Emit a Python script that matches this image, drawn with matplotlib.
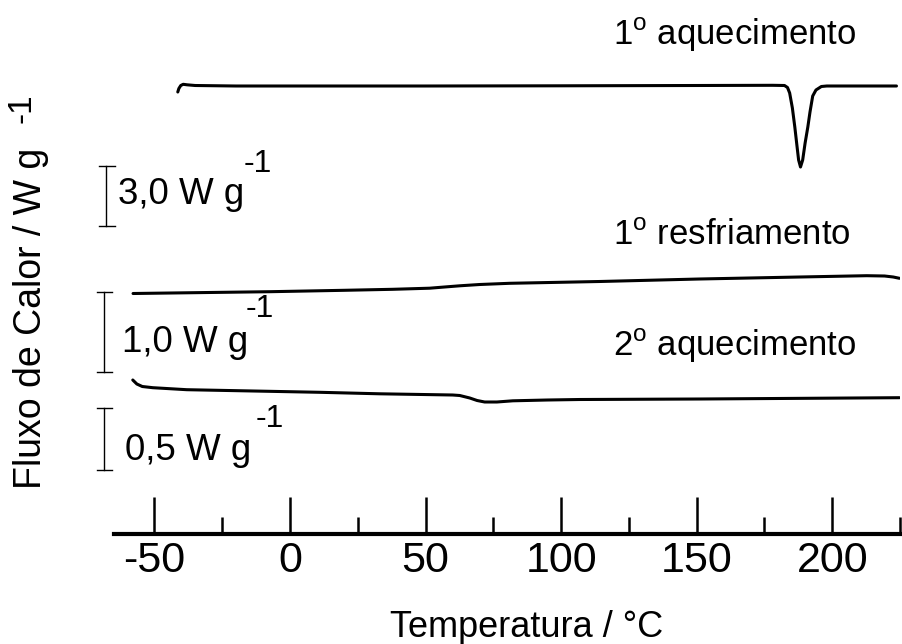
import matplotlib
matplotlib.use("Agg")
import matplotlib.pyplot as plt
from matplotlib.ticker import MultipleLocator

plt.rcParams['font.family'] = ['Liberation Sans', 'DejaVu Sans']
plt.rcParams['mathtext.fontset'] = 'custom'
plt.rcParams['mathtext.rm'] = 'Liberation Sans'
plt.rcParams['axes.unicode_minus'] = False

# ---- data (temperature in °C, heat flow in offset display units) ----
heat1_T = [-41.4, -41.0, -40.3, -39.4, -38.0, -35.0, -20.0, 0.0, 50.0, 100.0, 150.0, 178.0,
           182.4, 183.5, 184.3, 185.3, 186.2, 187.0, 187.6, 188.3, 189.1, 190.0, 191.0,
           191.8, 192.8, 194.0, 196.0, 198.0, 223.7]
heat1_py = [92, 88.5, 85.5, 84.3, 84.8, 85.5, 86, 86, 86, 85.8, 85.5, 85.3,
            85.5, 87.5, 93, 108, 127, 146, 160, 167, 160, 143, 127,
            112, 96, 90, 86.5, 86, 86]

cool1_T = [-57.9, -30.0, -7.4, 20.0, 37.9, 51.5, 57.0, 62.6, 70.0, 81.0, 114.2, 151.0,
           188.0, 212.7, 219.3, 222.5, 224.8]
cool1_py = [293.5, 292.5, 291.7, 290.3, 289.3, 288.2, 287.0, 285.8, 284.5, 283.3, 281.5, 279.0,
            277.0, 275.7, 276.0, 277.0, 278.3]

heat2_T = [-58.0, -56.5, -54.5, -50.6, -38.1, 11.0, 33.1, 60.0, 62.6, 66.3, 69.0, 71.8,
           76.3, 82.2, 95.0, 106.9, 151.1, 224.8]
heat2_py = [380, 384, 386.5, 387.7, 389.7, 392.3, 393.8, 395.0, 395.5, 398.0, 400.5, 402.0,
            402.0, 400.8, 400.0, 399.5, 399.0, 397.7]

curve_labels = [r"1$^{\mathregular{o}}$ aquecimento",
                r"1$^{\mathregular{o}}$ resfriamento",
                r"2$^{\mathregular{o}}$ aquecimento"]
scale_labels = ["3,0 W g", "1,0 W g", "0,5 W g"]
xticks_major = [-50, 0, 50, 100, 150, 200]

H = 534.0  # axis baseline in display-unit space


def y(v):
    return H - v


fig = plt.figure(figsize=(9.02, 6.44), dpi=100)
ax = fig.add_axes([113.8 / 902, (644 - 534) / 644, (900 - 113.8) / 902, 534 / 644])
ax.set_xlim(-65, 225)
ax.set_ylim(0, H)

lw = 2.2
for T, py in [(heat1_T, heat1_py), (cool1_T, cool1_py), (heat2_T, heat2_py)]:
    ax.plot(T, [y(v) for v in py], color='black', lw=lw, solid_capstyle='round',
            solid_joinstyle='round')

for s in ['left', 'top', 'right']:
    ax.spines[s].set_visible(False)
ax.spines['bottom'].set_linewidth(3)
ax.set_yticks([])
ax.set_xticks(xticks_major)
ax.xaxis.set_minor_locator(MultipleLocator(25))
ax.tick_params(axis='x', which='major', direction='in', length=26.5, width=1.8,
               labelsize=31, pad=5)
ax.tick_params(axis='x', which='minor', direction='in', length=12, width=1.8)

# curve labels
fs = 25
ax.text(119.0, y(45), curve_labels[0], fontsize=fs, ha='left', va='baseline')
ax.text(119.0, y(245), curve_labels[1], fontsize=fs, ha='left', va='baseline')
ax.text(119.0, y(356), curve_labels[2], fontsize=fs, ha='left', va='baseline')

# scale bars
bars = [(-67.7, -70.5, -64.6, 166, 226), (-68.7, -71.2, -65.7, 291.7, 371.7),
        (-68.7, -71.2, -65.7, 408, 470)]
for xb, x0, x1, top, bot in bars:
    ax.plot([xb, xb], [y(top), y(bot)], color='black', lw=1.0, clip_on=False)
    ax.plot([x0, x1], [y(top), y(top)], color='black', lw=1.0, clip_on=False)
    ax.plot([x0, x1], [y(bot), y(bot)], color='black', lw=1.0, clip_on=False)

lab_pos = [(-63.5, 204, -17.0, 172), (-62.0, 351.7, -16.2, 317), (-60.9, 460, -12.6, 427)]
for lab, (lx, lb, sx, sb) in zip(scale_labels, lab_pos):
    ax.text(lx, y(lb), lab, fontsize=26.5, ha='left', va='baseline')
    ax.text(sx, y(sb), "-1", fontsize=23, ha='left', va='baseline')

# axis labels
fig.text(527 / 902, 1 - 637 / 644, "Temperatura / °C", fontsize=26, ha='center', va='baseline')
fig.text(31 / 902, 1 - 318 / 644, "Fluxo de Calor / W g", fontsize=27, rotation=90,
         ha='center', va='center')
fig.text(22 / 902, 1 - 108 / 644, "-1", fontsize=24, rotation=90, ha='center', va='center')

fig.savefig("out.png", dpi=100)
